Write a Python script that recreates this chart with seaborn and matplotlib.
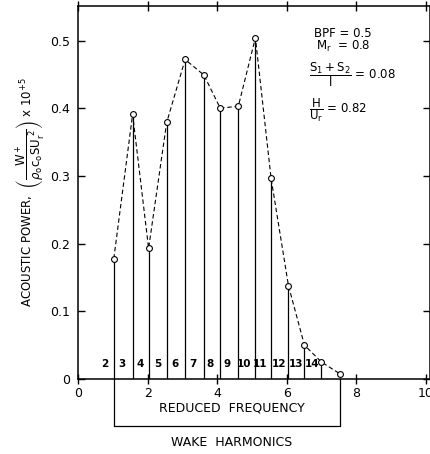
import matplotlib
matplotlib.use("Agg")
import matplotlib.pyplot as plt
import seaborn as sns
import pandas as pd

# Data
freq = [1.03, 1.57, 2.03, 2.55, 3.08, 3.62, 4.09, 4.61, 5.10, 5.55, 6.05, 6.51, 7.00, 7.52]
power = [0.178, 0.391, 0.193, 0.379, 0.472, 0.449, 0.400, 0.403, 0.504, 0.297, 0.138, 0.050, 0.025, 0.008]
harmonics = [2, 3, 4, 5, 6, 7, 8, 9, 10, 11, 12, 13, 14]
harm_pos = [0.78, 1.27, 1.80, 2.29, 2.78, 3.30, 3.79, 4.28, 4.76, 5.24, 5.77, 6.27, 6.73]
xticks = [0, 2, 4, 6, 8, 10]
yticks = [0, 0.1, 0.2, 0.3, 0.4, 0.5]
ytick_labels = ["0", "0.1", "0.2", "0.3", "0.4", "0.5"]

df = pd.DataFrame({"freq": freq, "power": power})

sns.set_style("ticks")
plt.rcParams["font.family"] = ["DejaVu Sans"]
plt.rcParams["mathtext.fontset"] = "dejavusans"
plt.rcParams["text.color"] = "black"
plt.rcParams["axes.labelcolor"] = "black"
plt.rcParams["xtick.color"] = "black"
plt.rcParams["ytick.color"] = "black"

fig = plt.figure(figsize=(4.31, 4.54), dpi=100)
ax = fig.add_axes([78 / 431, 1 - 379 / 454, (430 - 78) / 431, (379 - 6) / 454])

# vertical stems (all but the last point)
ax.vlines(df["freq"][:-1], 0, df["power"][:-1], color="black", lw=0.9)

sns.lineplot(data=df, x="freq", y="power", ax=ax, color="black", lw=0.8,
             linestyle=(0, (4, 2.5)), marker="o", markersize=4.2,
             markerfacecolor="white", markeredgecolor="black", markeredgewidth=0.8)

for h, p in zip(harmonics, harm_pos):
    ax.text(p, 0.015, str(h), ha="center", va="bottom", fontsize=7.5,
            fontweight="bold")

ax.set_xlim(0, 10.12)
ax.set_ylim(0, 0.551)
ax.set_xticks(xticks)
ax.set_xticklabels([str(t) for t in xticks], fontsize=9)
ax.set_yticks(yticks)
ax.set_yticklabels(ytick_labels, fontsize=9)
ax.tick_params(axis="x", direction="inout", length=7, width=1, pad=2, top=True)
ax.tick_params(axis="y", direction="in", length=5, width=1, pad=6, right=True)
for s in ax.spines.values():
    s.set_linewidth(1.1)
    s.set_color("black")

ax.set_xlabel("")
ax.set_ylabel(r"ACOUSTIC POWER,  $\left(\dfrac{\mathrm{W^+}}{\rho_\mathrm{o} \mathrm{c_o S U_r^{\ 2}}}\right)$ x 10$^{+5}$",
              fontsize=8.5, labelpad=2)

# wake harmonics bracket
ax.plot([freq[0], freq[0], freq[-1], freq[-1]], [0, -0.070, -0.070, 0],
        color="black", lw=0.9, clip_on=False)
ax.text(4.42, -0.043, "REDUCED  FREQUENCY", ha="center", va="center", fontsize=9)
ax.text(4.42, -0.094, "WAKE  HARMONICS", ha="center", va="center", fontsize=9)

# parameters annotation
ax.text(6.78, 0.511, "BPF = 0.5", ha="left", va="center", fontsize=8.5)
ax.text(6.83, 0.491, r"$\mathrm{M_r}$  = 0.8", ha="left", va="center", fontsize=8.5)
ax.text(6.63, 0.449, r"$\dfrac{\mathrm{S_1 + S_2}}{\mathrm{l}}$ = 0.08", ha="left", va="center",
        fontsize=8.5)
ax.text(6.63, 0.397, r"$\dfrac{\mathrm{H}}{\mathrm{U_r}}$ = 0.82", ha="left", va="center",
        fontsize=8.5)

fig.savefig("out.png", dpi=100)
